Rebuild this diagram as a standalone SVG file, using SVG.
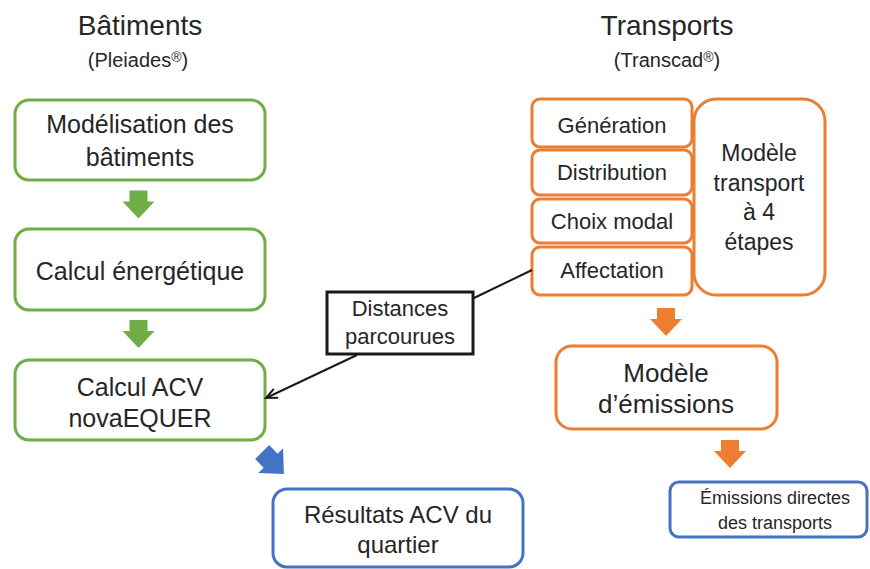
<svg xmlns="http://www.w3.org/2000/svg" width="870" height="569" viewBox="0 0 870 569">
<defs>
<style>
text{font-family:"Liberation Sans",Arial,sans-serif;fill:#262626;text-anchor:middle}
.g{fill:#fff;stroke:#70AD47;stroke-width:3}
.o{fill:#fff;stroke:#ED7D31;stroke-width:3}
.b{fill:#fff;stroke:#4472C4;stroke-width:3}
.k{fill:#fff;stroke:#1a1a1a;stroke-width:3}
.con{stroke:#1a1a1a;stroke-width:2;fill:none}
</style>
<marker id="ah" markerWidth="14" markerHeight="12" refX="12" refY="6" orient="auto" markerUnits="userSpaceOnUse">
<path d="M1,1 L12,6 L1,11" fill="none" stroke="#1a1a1a" stroke-width="2"/>
</marker>
<path id="blk" d="M-9,-14 H9 V-3 H16 L0,14 L-16,-3 H-9 Z"/>
</defs>

<g id="titles">
<text x="140" y="35" font-size="28">Bâtiments</text>
<text x="138" y="67" font-size="20">(Pleiades<tspan font-size="14" dy="-5">®</tspan><tspan dy="5">)</tspan></text>
<text x="667" y="35" font-size="28">Transports</text>
<text x="667" y="67" font-size="20">(Transcad<tspan font-size="14" dy="-5">®</tspan><tspan dy="5">)</tspan></text>
</g>

<g id="n-modelisation">
<rect class="g" x="15" y="100" width="250" height="80" rx="14"/>
<text x="140" y="133" font-size="25">Modélisation des</text>
<text x="140" y="166" font-size="25">bâtiments</text>
</g>
<g id="n-energetique">
<rect class="g" x="15" y="229" width="250" height="81" rx="14"/>
<text x="140" y="280" font-size="25">Calcul énergétique</text>
</g>
<g id="n-acv">
<rect class="g" x="15" y="360" width="250" height="80" rx="14"/>
<text x="140" y="396" font-size="25">Calcul ACV</text>
<text x="140" y="427" font-size="25">novaEQUER</text>
</g>

<g id="n-generation">
<rect class="o" x="532" y="99" width="160" height="48" rx="8"/>
<text x="612" y="133" font-size="22">Génération</text>
</g>
<g id="n-distribution">
<rect class="o" x="532" y="150" width="160" height="45" rx="8"/>
<text x="612" y="180" font-size="22">Distribution</text>
</g>
<g id="n-choix">
<rect class="o" x="532" y="199" width="160" height="44" rx="8"/>
<text x="612" y="229" font-size="22">Choix modal</text>
</g>
<g id="n-affectation">
<rect class="o" x="532" y="247" width="160" height="48" rx="8"/>
<text x="612" y="278" font-size="22">Affectation</text>
</g>
<g id="n-modele4">
<rect class="o" x="694" y="99" width="131" height="196" rx="22"/>
<text x="759" y="161" font-size="23">Modèle</text>
<text x="759" y="191" font-size="23">transport</text>
<text x="759" y="220" font-size="23">à 4</text>
<text x="759" y="250" font-size="23">étapes</text>
</g>

<g id="n-distances">
<rect class="k" x="327" y="292" width="146" height="62"/>
<text x="400" y="316" font-size="22">Distances</text>
<text x="400" y="344" font-size="22">parcourues</text>
</g>

<g id="n-emissions">
<rect class="o" x="556" y="346" width="221" height="83" rx="16"/>
<text x="666" y="382" font-size="26">Modèle</text>
<text x="666" y="413" font-size="26">d’émissions</text>
</g>

<g id="n-resultats">
<rect class="b" x="273" y="489" width="250" height="78" rx="14"/>
<text x="398" y="523" font-size="24">Résultats ACV du</text>
<text x="398" y="553" font-size="24">quartier</text>
</g>

<g id="n-directes">
<rect class="b" x="670" y="482" width="197" height="55" rx="9"/>
<text x="775" y="504" font-size="18">Émissions directes</text>
<text x="775" y="529" font-size="18">des transports</text>
</g>

<g id="connectors">
<line class="con" x1="532" y1="270" x2="474" y2="298"/>
<line class="con" x1="357" y1="355" x2="266" y2="398" marker-end="url(#ah)"/>
<use href="#blk" fill="#70AD47" transform="translate(138.5,204.5)"/>
<use href="#blk" fill="#70AD47" transform="translate(138.5,334)"/>
<use href="#blk" fill="#ED7D31" transform="translate(666,322)"/>
<use href="#blk" fill="#ED7D31" transform="translate(730,454)"/>
<use href="#blk" fill="#4472C4" transform="translate(273,463) rotate(-45) scale(1.1)"/>
</g>
</svg>
